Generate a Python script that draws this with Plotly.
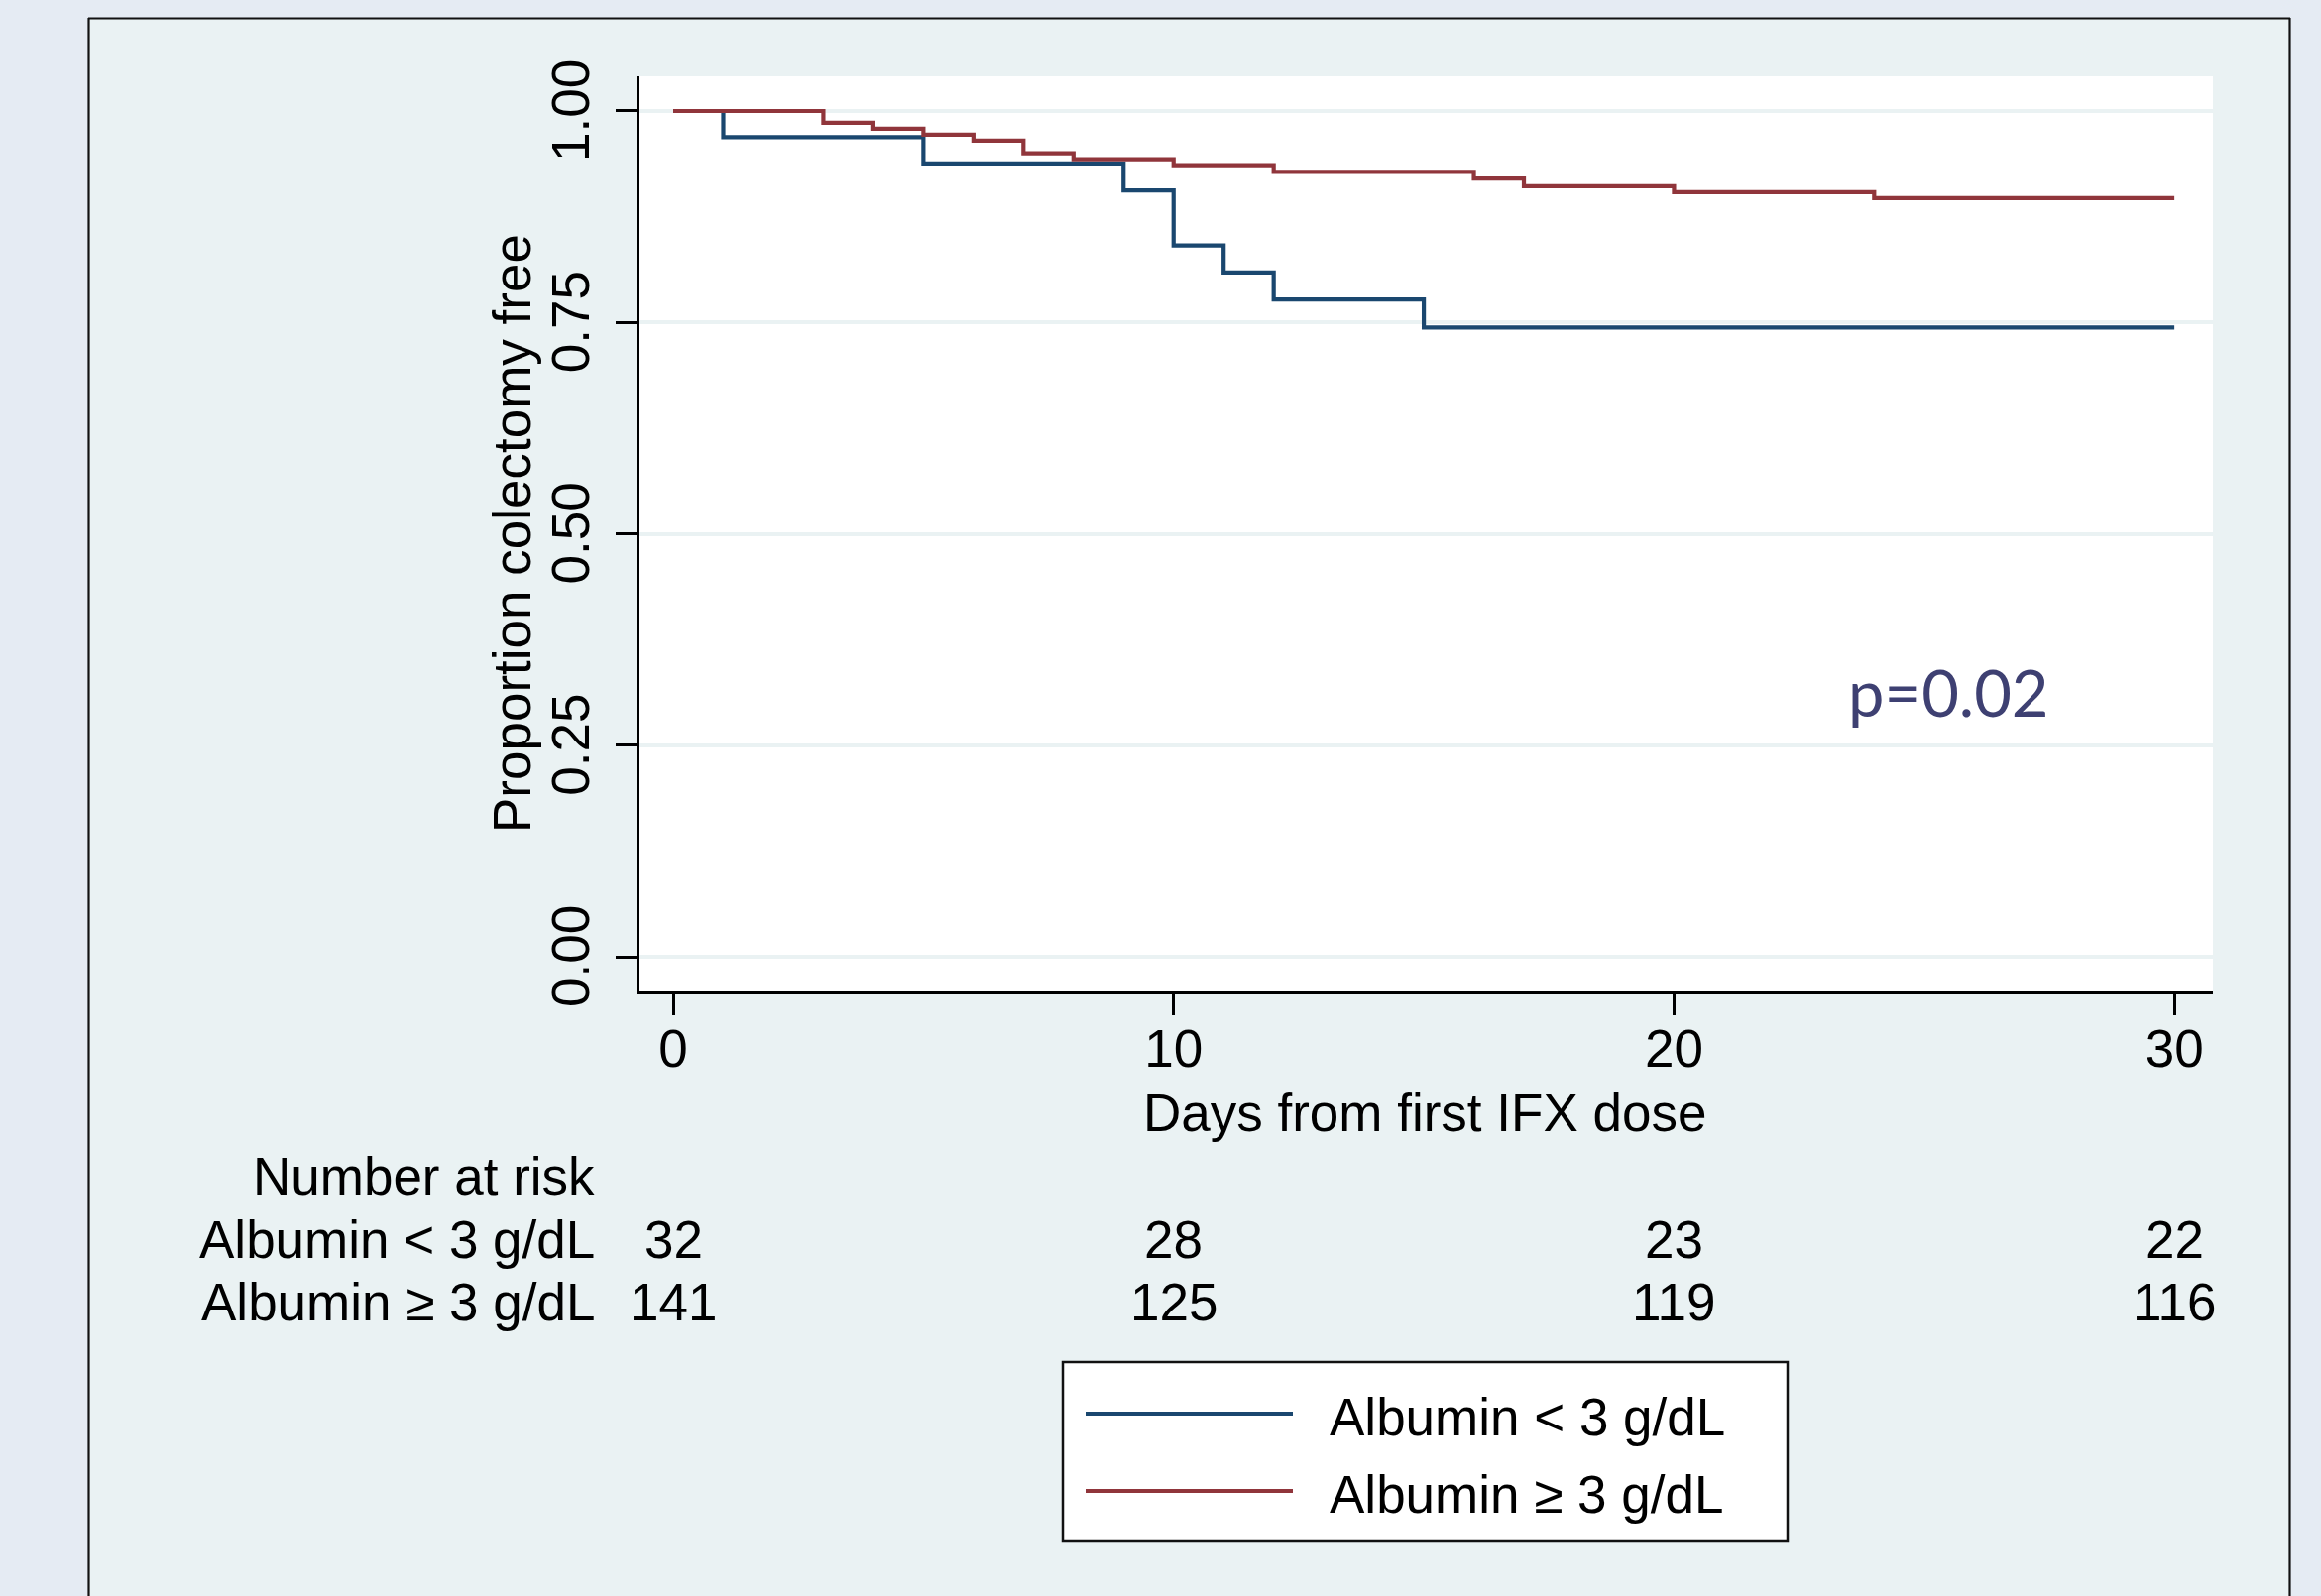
import plotly.graph_objects as go

# ---------------- data ----------------
days_low = [0, 1, 5, 9, 10, 11, 12, 15, 30]
surv_low = [1.0, 0.969, 0.938, 0.906, 0.841, 0.809, 0.777, 0.744, 0.744]

days_high = [0, 3, 4, 5, 6, 7, 8, 10, 12, 16, 17, 20, 24, 30]
surv_high = [1.0, 0.986, 0.979, 0.972, 0.965, 0.950, 0.943, 0.936, 0.928,
             0.920, 0.911, 0.904, 0.897, 0.897]

series_names = ["Albumin < 3 g/dL", "Albumin \u2265 3 g/dL"]
series_colors = ["#1A476F", "#90353B"]

x_ticks = [0, 10, 20, 30]
x_ticktext = ["0", "10", "20", "30"]
y_ticks = [0, 0.25, 0.5, 0.75, 1.0]
y_ticktext = ["0.00", "0.25", "0.50", "0.75", "1.00"]

risk_days = [0, 10, 20, 30]
risk_low = [32, 28, 23, 22]
risk_high = [141, 125, 119, 116]

p_text = "p=0.02"

# ---------------- layout geometry (pixels) ----------------
W, H = 2341, 1610
PL, PR, PT, PB = 645, 2232, 77, 1000
FONT = "Liberation Sans, Arial, Helvetica, sans-serif"
FS = 53
INNER_BG = "#EAF2F3"
OUTER_BG = "#E5EBF3"


def px_x(p):
    return (p - PL) / (PR - PL)


def px_y(p):
    return (PB - p) / (PB - PT)


fig = go.Figure()

for d, s, name, col in [(days_low, surv_low, series_names[0], series_colors[0]),
                        (days_high, surv_high, series_names[1], series_colors[1])]:
    fig.add_trace(go.Scatter(x=d, y=s, mode="lines", name=name,
                             line=dict(color=col, width=4.2, shape="hv"),
                             showlegend=False))

shapes = []
# outer strips outside the framed graph region
for (x0, x1, y0, y1) in [(0, 89, 0, H), (2310, W, 0, H), (0, W, 0, 18)]:
    shapes.append(dict(type="rect", xref="paper", yref="paper",
                       x0=px_x(x0), x1=px_x(x1), y0=px_y(y1), y1=px_y(y0),
                       fillcolor=OUTER_BG, line=dict(width=0), layer="below"))
# frame lines
for (x0, y0, x1, y1) in [(89.5, 18, 89.5, H + 5), (89, 18.5, 2310, 18.5),
                         (2309.5, 18, 2309.5, H + 5)]:
    shapes.append(dict(type="line", xref="paper", yref="paper",
                       x0=px_x(x0), x1=px_x(x1), y0=px_y(y0), y1=px_y(y1),
                       line=dict(color="#111111", width=2.2)))
# legend box
shapes.append(dict(type="rect", xref="paper", yref="paper",
                   x0=px_x(1072), x1=px_x(1803), y0=px_y(1555), y1=px_y(1374),
                   fillcolor="white", line=dict(color="#111111", width=2.5)))
for yy, col in zip([1426, 1504], series_colors):
    shapes.append(dict(type="line", xref="paper", yref="paper",
                       x0=px_x(1095), x1=px_x(1304), y0=px_y(yy), y1=px_y(yy),
                       line=dict(color=col, width=4.2)))

annotations = []
font = dict(family=FONT, size=FS, color="black")
# axis titles
annotations.append(dict(text="Proportion colectomy free", xref="paper", yref="paper",
                        x=px_x(516), y=px_y(538), xanchor="center", yanchor="middle",
                        textangle=-90, showarrow=False, font=font))
annotations.append(dict(text="Days from first IFX dose", xref="paper", yref="paper",
                        x=px_x(1437), y=px_y(1122), xanchor="center", yanchor="middle",
                        showarrow=False, font=font))
# number at risk table
for txt, yy in [("Number at risk", 1186), (series_names[0], 1250), (series_names[1], 1313)]:
    annotations.append(dict(text=txt, xref="paper", yref="paper",
                            x=px_x(602), y=px_y(yy), xanchor="right", yanchor="middle",
                            showarrow=False, font=font))
for vals, yy in [(risk_low, 1250), (risk_high, 1313)]:
    for d, v in zip(risk_days, vals):
        annotations.append(dict(text=str(v), xref="x", yref="paper",
                                x=d, y=px_y(yy), xanchor="center", yanchor="middle",
                                showarrow=False, font=font))
# legend labels
for txt, yy in zip(series_names, [1429, 1507]):
    annotations.append(dict(text=txt, xref="paper", yref="paper",
                            x=px_x(1339), y=px_y(yy), xanchor="left", yanchor="middle",
                            showarrow=False, font=font))
# p value
annotations.append(dict(text=p_text, xref="x", yref="y", x=25.48, y=0.313,
                        xanchor="center", yanchor="middle", showarrow=False,
                        font=dict(family="Lato, Open Sans, sans-serif", size=65,
                                  color="#3E4072")))

fig.update_layout(
    width=W, height=H,
    margin=dict(l=PL, r=W - PR, t=PT, b=H - PB, pad=0),
    paper_bgcolor=INNER_BG, plot_bgcolor="white",
    shapes=shapes, annotations=annotations,
    showlegend=False,
    font=font,
)
fig.update_xaxes(range=[-0.674, 30.77], tickvals=x_ticks, ticktext=x_ticktext,
                 showgrid=False, zeroline=False, showline=True, linecolor="black",
                 linewidth=2.5, ticks="outside", ticklen=21, tickwidth=2.5,
                 tickcolor="black", tickfont=font, ticklabelstandoff=-11)
fig.update_yaxes(range=[-0.041, 1.041], tickvals=y_ticks,
                 ticktext=[t + "\u00a0" for t in y_ticktext],
                 showgrid=True, gridcolor=INNER_BG, gridwidth=3.5, zeroline=False,
                 showline=True, linecolor="black", linewidth=2.5, ticks="outside",
                 ticklen=21, tickwidth=2.5, tickcolor="black", tickfont=font,
                 tickangle=-90, ticklabelstandoff=6)

fig.write_html("out.html", config={"displayModeBar": False},
               post_script="document.body.style.margin='0';document.body.style.padding='0';")
